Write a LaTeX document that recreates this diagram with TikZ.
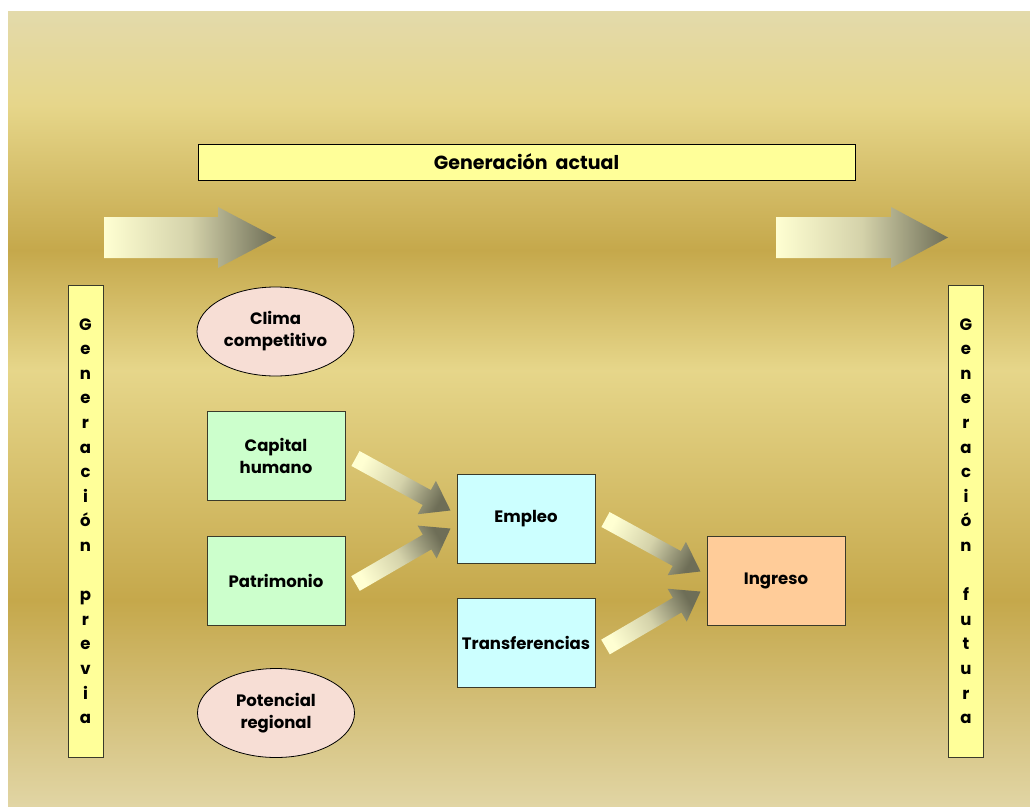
\documentclass[tikz,border=0pt]{standalone}
\usepackage{fontspec}
\setmainfont{Poppins}
\usetikzlibrary{calc, shapes.geometric, positioning}
\definecolor{bgtop}{HTML}{E3DAAB}
\definecolor{bglight}{HTML}{E6D68A}
\definecolor{bgdark}{HTML}{C5A84B}
\definecolor{bgbottom}{HTML}{E1D5A4}
\definecolor{lemon}{HTML}{FFFF99}
\definecolor{mint}{HTML}{CCFFCC}
\definecolor{aqua}{HTML}{CCFFFF}
\definecolor{peach}{HTML}{FFCC99}
\definecolor{blush}{HTML}{F7DED5}
\definecolor{arrowtail}{HTML}{FFFFD2}
\definecolor{arrowmid}{HTML}{D4D2AA}
\definecolor{arrowtip}{HTML}{6E6E57}
\definecolor{edge}{HTML}{3A3A2A}

\tikzset{
  factor/.style={draw=edge, line width=1pt, minimum width=138pt, minimum height=89pt,
    inner sep=2pt, align=center, font=\fontsize{16.5}{22}\selectfont\bfseries},
  oval/.style={ellipse, draw=black, line width=0.8pt, fill=blush, minimum width=157pt,
    minimum height=89pt, inner sep=1pt, align=center, font=\fontsize{16.5}{22}\selectfont\bfseries},
  genbar/.style={draw=edge, line width=1pt, fill=lemon, minimum width=35pt, minimum height=472pt,
    inner sep=0pt, align=center, font=\fontsize{16.5}{24.6}\selectfont\bfseries},
}

% shaded block arrow: tail, tip, half shaft, half head, head length
\newcommand{\fatarrow}[5]{%
  \path (#1); \pgfgetlastxy{\fxa}{\fya}
  \path (#2); \pgfgetlastxy{\fxb}{\fyb}
  \pgfmathsetmacro{\fang}{atan2(\fyb-\fya,\fxb-\fxa)}
  \pgfmathsetmacro{\flen}{veclen(\fxb-\fxa,\fyb-\fya)}
  \pgfmathsetmacro{\fshade}{90+\fang}
  \shade[shift={(#1)}, rotate=\fang, left color=arrowtail, right color=arrowtip,
    middle color=arrowmid, shading angle=\fshade]
    (0pt,-#3pt) -- (\flen pt-#5pt,-#3pt) -- (\flen pt-#5pt,-#4pt) -- (\flen pt,0pt)
    -- (\flen pt-#5pt,#4pt) -- (\flen pt-#5pt,#3pt) -- (0pt,#3pt) -- cycle;
}

\begin{document}
\begin{tikzpicture}[x=1pt, y=-1pt]
  \useasboundingbox (0,0) rectangle (1030,806);

  % background stripes
  \shade[top color=bgtop, bottom color=bglight] (8,11) rectangle (1030,105.5);
  \shade[top color=bglight, bottom color=bgdark] (8,105) rectangle (1030,250.5);
  \shade[top color=bgdark, bottom color=bglight] (8,250) rectangle (1030,370.5);
  \shade[top color=bglight, bottom color=bgdark] (8,370) rectangle (1030,600.5);
  \shade[top color=bgdark, bottom color=bgbottom] (8,600) rectangle (1030,806);

  % generations
  \node[draw=black, line width=1pt, fill=lemon, minimum width=657pt, minimum height=36pt,
    font=\fontsize{19}{22}\selectfont\bfseries] (actual) at (526.5,162) {Generación\ \ actual};
  \node[genbar] (previa) at (85.5,521)
    {G\\e\\n\\e\\r\\a\\c\\i\\ó\\n\\\mbox{}\\p\\r\\e\\v\\i\\a};
  \node[genbar] (futura) at (966,521)
    {G\\e\\n\\e\\r\\a\\c\\i\\ó\\n\\\mbox{}\\f\\u\\t\\u\\r\\a};

  % time arrows
  \coordinate (pasoA) at (104,237.5);
  \coordinate (pasoB) at (276,237.5);
  \coordinate (pasoC) at (776,237.5);
  \coordinate (pasoD) at (948,237.5);
  \fatarrow{pasoA}{pasoB}{20.5}{30.5}{58}
  \fatarrow{pasoC}{pasoD}{20.5}{30.5}{57}

  % factors
  \node[oval] (clima) at (275.5,331.5) {Clima\\competitivo};
  \node[factor, fill=mint] (capital) at (276,455.5) {Capital\\humano};
  \node[factor, fill=mint] (patrimonio) at (276,580.5) {Patrimonio};
  \node[oval] (potencial) at (276,713) {Potencial\\regional};
  \node[factor, fill=aqua] (empleo) at (526,518.5) {Empleo};
  \node[factor, fill=aqua] (transf) at (526,643) {Transferencias};
  \node[factor, fill=peach] (ingreso) at (776,580.5) {Ingreso};

  % flows
  \fatarrow{$(capital.east)+(10,3)$}{$(empleo.west)+(-6,-8)$}{8.5}{19}{27}
  \fatarrow{$(patrimonio.east)+(10,3)$}{$(empleo.west)+(-6,10)$}{8.5}{19}{27}
  \fatarrow{$(empleo.east)+(10,1)$}{$(ingreso.west)+(-6,-9)$}{8.5}{19}{27}
  \fatarrow{$(transf.east)+(10,4)$}{$(ingreso.west)+(-6,11)$}{8.5}{19}{27}
\end{tikzpicture}
\end{document}
